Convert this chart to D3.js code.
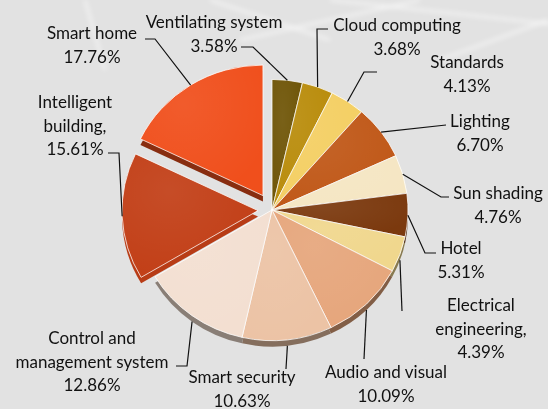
<!DOCTYPE html>
<html>
<head>
<meta charset="utf-8">
<script src="https://cdn.jsdelivr.net/npm/d3@7"></script>
<style>
  body { margin: 0; background: #e2e2e2; }
  svg { display: block; }
</style>
</head>
<body>
<div id="chart"></div>
<script>
// data, clockwise from 12 o'clock
const categories = ["Ventilating system", "Cloud computing", "Standards", "Lighting", "Sun shading", "Hotel",
  "Electrical engineering", "Audio and visual", "Smart security", "Control and management system",
  "Intelligent building", "Smart home"];
const shares = [3.58, 3.68, 4.13, 6.70, 4.76, 5.31, 4.39, 10.09, 10.63, 12.86, 15.61, 17.76];
const labelLines = [
  ["Ventilating system", "3.58%"],
  ["Cloud computing", "3.68%"],
  ["Standards", "4.13%"],
  ["Lighting", "6.70%"],
  ["Sun shading", "4.76%"],
  ["Hotel", "5.31%"],
  ["Electrical", "engineering,", "4.39%"],
  ["Audio and visual", "10.09%"],
  ["Smart security", "10.63%"],
  ["Control and", "management system", "12.86%"],
  ["Intelligent", "building,", "15.61%"],
  ["Smart home", "17.76%"]
];

const colors = ["#6f5507", "#b98c0b", "#f4cf63", "#c05818", "#f5e6c3", "#7b390e",
  "#f0d78d", "#e6a67c", "#ecc3a5", "#f3dfd1", "#c23f17", "#f04f1c"];
const explode = [0, 0, 0, 0, 0, 0, 0, 0, 0, 0, 14, 17];

// label layout: centre x, first baseline, leader elbows after the slice point
const labelPos = [
  {x: 214, y: 28, path: [[253, 47], [241, 47]]},
  {x: 397, y: 31, path: [[317, 29], [328, 29]]},
  {x: 467, y: 68, path: [[364, 72], [377, 72]]},
  {x: 480, y: 127, path: [[446, 125]]},
  {x: 498, y: 199, path: [[441, 197], [449, 197]]},
  {x: 461, y: 254, path: [[425, 253], [436, 253]]},
  {x: 481, y: 311, path: [[402, 311]]},
  {x: 386, y: 378, path: [[364, 359]]},
  {x: 242, y: 383, path: [[286, 369]]},
  {x: 92, y: 344, path: [[187, 366], [176, 366]]},
  {x: 75, y: 108, path: [[119, 153], [108, 153]]},
  {x: 92, y: 39, path: [[155, 39], [145, 39]]}
];

const width = 548, height = 409;
const cx = 272, cy = 210, r = 136, sy = 0.96, depth = 6;
const lineH = 23.5;

const svg = d3.select("#chart").append("svg")
  .attr("width", width)
  .attr("height", height);

const defs = svg.append("defs");
const blur = defs.append("filter").attr("id", "blur");
blur.append("feGaussianBlur").attr("stdDeviation", 2.5);
const shine = defs.append("radialGradient").attr("id", "shine")
  .attr("cx", "35%").attr("cy", "30%").attr("r", "75%");
shine.append("stop").attr("offset", "0%").attr("stop-color", "#fff").attr("stop-opacity", 0.07);
shine.append("stop").attr("offset", "100%").attr("stop-color", "#fff").attr("stop-opacity", 0);

// background
svg.append("rect").attr("width", width).attr("height", height).attr("fill", "#e2e2e2");
const streaks = [[[85, 0], [105, 70]], [[210, 0], [330, 40]], [[330, 0], [560, 25]], [[440, 60], [548, 20]], [[240, 40], [420, 0]]];
svg.append("g").attr("filter", "url(#blur)")
  .selectAll("line").data(streaks).enter().append("line")
  .attr("x1", d => d[0][0]).attr("y1", d => d[0][1])
  .attr("x2", d => d[1][0]).attr("y2", d => d[1][1])
  .attr("stroke", "#fff").attr("stroke-width", 3).attr("opacity", 0.55);

const pie = d3.pie().sort(null).value(d => d)(shares);
const arc = d3.arc().innerRadius(0).outerRadius(r);

function offset(d, i) {
  const a = (d.startAngle + d.endAngle) / 2;
  return [explode[i] * Math.sin(a), -explode[i] * Math.cos(a)];
}

// side faces (drawn below, shifted down)
svg.append("g").selectAll("path").data(pie).enter().append("path")
  .attr("transform", (d, i) => {
    const o = offset(d, i);
    return "translate(" + (cx + o[0]) + "," + (cy + o[1] + depth) + ") scale(1," + sy + ")";
  })
  .attr("d", arc)
  .attr("fill", (d, i) => d3.color(colors[i]).darker(i === 10 ? 0.15 : 1.6));

// top faces
const tops = svg.append("g").selectAll("g").data(pie).enter().append("g")
  .attr("transform", (d, i) => {
    const o = offset(d, i);
    return "translate(" + (cx + o[0]) + "," + (cy + o[1]) + ") scale(1," + sy + ")";
  });
tops.append("path")
  .attr("d", arc)
  .attr("fill", (d, i) => colors[i])
  .attr("stroke", "#fff")
  .attr("stroke-opacity", 0.85)
  .attr("stroke-width", 0.9)
  .attr("vector-effect", "non-scaling-stroke");
tops.append("path")
  .attr("d", arc)
  .attr("fill", "url(#shine)");

// leader lines
const leaders = svg.append("g");
pie.forEach((d, i) => {
  const a = (d.startAngle + d.endAngle) / 2;
  const o = offset(d, i);
  let sx0 = cx + o[0] + r * Math.sin(a);
  let sy0 = cy + o[1] - r * sy * Math.cos(a);
  if (Math.cos(a) < -0.3) sy0 += depth;
  const pts = [[sx0, sy0]].concat(labelPos[i].path);
  leaders.append("path")
    .attr("d", d3.line()(pts))
    .attr("fill", "none")
    .attr("stroke", "#111")
    .attr("stroke-width", 1.2);
});

// labels
const labels = svg.append("g")
  .attr("font-family", "Lato, 'Open Sans', sans-serif")
  .attr("font-size", "17px")
  .attr("fill", "#111")
  .attr("text-anchor", "middle");
labelLines.forEach((lines, i) => {
  const t = labels.append("text")
    .attr("x", labelPos[i].x)
    .attr("y", labelPos[i].y);
  lines.forEach((s, j) => {
    t.append("tspan")
      .attr("x", labelPos[i].x)
      .attr("dy", j === 0 ? 0 : lineH)
      .text(s);
  });
});
</script>
</body>
</html>
